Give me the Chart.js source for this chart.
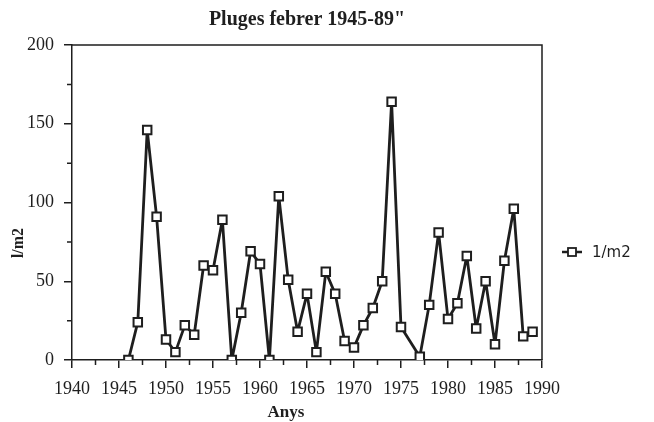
<!DOCTYPE html>
<html>
<head>
<meta charset="utf-8">
<script src="https://cdn.jsdelivr.net/npm/chart.js@4"></script>
<style>
  html, body { margin: 0; padding: 0; background: #fff; }
  #wrap { width: 654px; height: 422px; }
</style>
</head>
<body>
<div id="wrap"><canvas id="myChart" width="654" height="422"></canvas></div>
<script>
// years with data (1976 has no point, the line jumps from 1975 to 1977)
var years = [1946, 1947, 1948, 1949, 1950, 1951, 1952, 1953, 1954, 1955,
             1956, 1957, 1958, 1959, 1960, 1961, 1962, 1963, 1964, 1965,
             1966, 1967, 1968, 1969, 1970, 1971, 1972, 1973, 1974, 1975,
             1977, 1978, 1979, 1980, 1981, 1982, 1983, 1984, 1985, 1986,
             1987, 1988, 1989];
// february rain, l/m2
var rain = [0, 24, 146, 91, 13, 5, 22, 16, 60, 57,
            89, 0, 30, 69, 61, 0, 104, 51, 18, 42,
            5, 56, 42, 12, 8, 22, 33, 50, 164, 21,
            2, 35, 81, 26, 36, 66, 20, 50, 10, 63,
            96, 15, 18];
var seriesName = "1/m2";
var chartTitle = 'Pluges febrer 1945-89"';
var xTitle = "Anys";
var yTitle = "l/m2";

var points = [];
for (var i = 0; i < years.length; i++) {
    points.push({x: years[i], y: rain[i]});
}

var serif = "'Liberation Serif', 'DejaVu Serif', serif";
var ink = '#1e1e1e';

// is this tick a labelled (major) one
function isMajor(scale, v) {
    return scale.axis === 'x' ? v % 5 === 0 : v % 50 === 0;
}

// box round the plot area, short minor ticks, titles and the legend
var framePlugin = {
    id: 'frame',
    afterDraw: function(chart) {
        var ctx = chart.ctx;
        var a = chart.chartArea;
        var xs = chart.scales.x, ys = chart.scales.y;
        ctx.save();
        ctx.strokeStyle = ink;
        ctx.lineWidth = 1.5;
        ctx.beginPath();
        ctx.moveTo(a.left, a.top);
        ctx.lineTo(a.right, a.top);
        ctx.lineTo(a.right, a.bottom);
        ctx.stroke();

        // minor ticks
        ctx.beginPath();
        xs.ticks.forEach(function(t) {
            if (!isMajor(xs, t.value)) {
                var px = xs.getPixelForValue(t.value);
                ctx.moveTo(px, a.bottom);
                ctx.lineTo(px, a.bottom + 5);
            }
        });
        ys.ticks.forEach(function(t) {
            if (!isMajor(ys, t.value)) {
                var py = ys.getPixelForValue(t.value);
                ctx.moveTo(a.left, py);
                ctx.lineTo(a.left - 5, py);
            }
        });
        ctx.stroke();

        ctx.fillStyle = ink;
        ctx.textAlign = 'center';
        ctx.textBaseline = 'middle';

        // chart title and x title
        ctx.font = "bold 20px " + serif;
        ctx.fillText(chartTitle, (a.left + a.right) / 2, 20);
        ctx.font = "bold 17px " + serif;
        ctx.fillText(xTitle, 286, 413);

        // y axis title
        ctx.save();
        ctx.translate(19, 243);
        ctx.rotate(-Math.PI / 2);
        ctx.font = "bold 16px " + serif;
        ctx.fillText(yTitle, 0, 0);
        ctx.restore();

        // legend
        var ly = 252, lx = 562;
        ctx.lineWidth = 2.5;
        ctx.beginPath();
        ctx.moveTo(lx, ly);
        ctx.lineTo(lx + 20, ly);
        ctx.stroke();
        ctx.fillStyle = '#fff';
        ctx.lineWidth = 1.8;
        ctx.fillRect(lx + 6, ly - 4, 8, 8);
        ctx.strokeRect(lx + 6, ly - 4, 8, 8);
        ctx.fillStyle = ink;
        ctx.font = "15px 'DejaVu Sans', sans-serif";
        ctx.textAlign = 'left';
        ctx.fillText(seriesName, lx + 30, ly + 1);
        ctx.restore();
    }
};

function tickCol(c) {
    return isMajor(c.scale, c.tick.value) ? ink : 'rgba(0,0,0,0)';
}

new Chart(document.getElementById('myChart'), {
    type: 'line',
    data: {
        datasets: [{
            label: seriesName,
            data: points,
            borderColor: ink,
            borderWidth: 2.8,
            borderJoinStyle: 'round',
            pointStyle: 'rect',
            pointRadius: 6,
            pointBackgroundColor: '#fff',
            pointBorderColor: ink,
            pointBorderWidth: 2,
            tension: 0
        }]
    },
    options: {
        responsive: false,
        animation: false,
        layout: { padding: { left: 0, right: 112, top: 45, bottom: 0 } },
        plugins: {
            legend: { display: false },
            tooltip: { enabled: false },
            title: { display: false }
        },
        scales: {
            x: {
                type: 'linear',
                min: 1940,
                max: 1990,
                afterFit: function(s) { s.height = 62; },
                ticks: {
                    stepSize: 2.5,
                    autoSkip: false,
                    maxRotation: 0,
                    color: ink,
                    font: { family: serif, size: 18 },
                    padding: 10,
                    callback: function(v) { return v % 5 === 0 ? String(v) : ''; }
                },
                grid: { drawOnChartArea: false, drawTicks: true, tickLength: 8, tickColor: tickCol, color: ink, lineWidth: 1.5 },
                border: { display: true, color: ink, width: 1.5 }
            },
            y: {
                min: 0,
                max: 200,
                afterFit: function(s) { s.width = 72; },
                ticks: {
                    stepSize: 25,
                    autoSkip: false,
                    color: ink,
                    font: { family: serif, size: 18 },
                    padding: 10,
                    callback: function(v) { return v % 50 === 0 ? String(v) : ''; }
                },
                grid: { drawOnChartArea: false, drawTicks: true, tickLength: 8, tickColor: tickCol, color: ink, lineWidth: 1.5 },
                border: { display: true, color: ink, width: 1.5 }
            }
        }
    },
    plugins: [framePlugin]
});
</script>
</body>
</html>
